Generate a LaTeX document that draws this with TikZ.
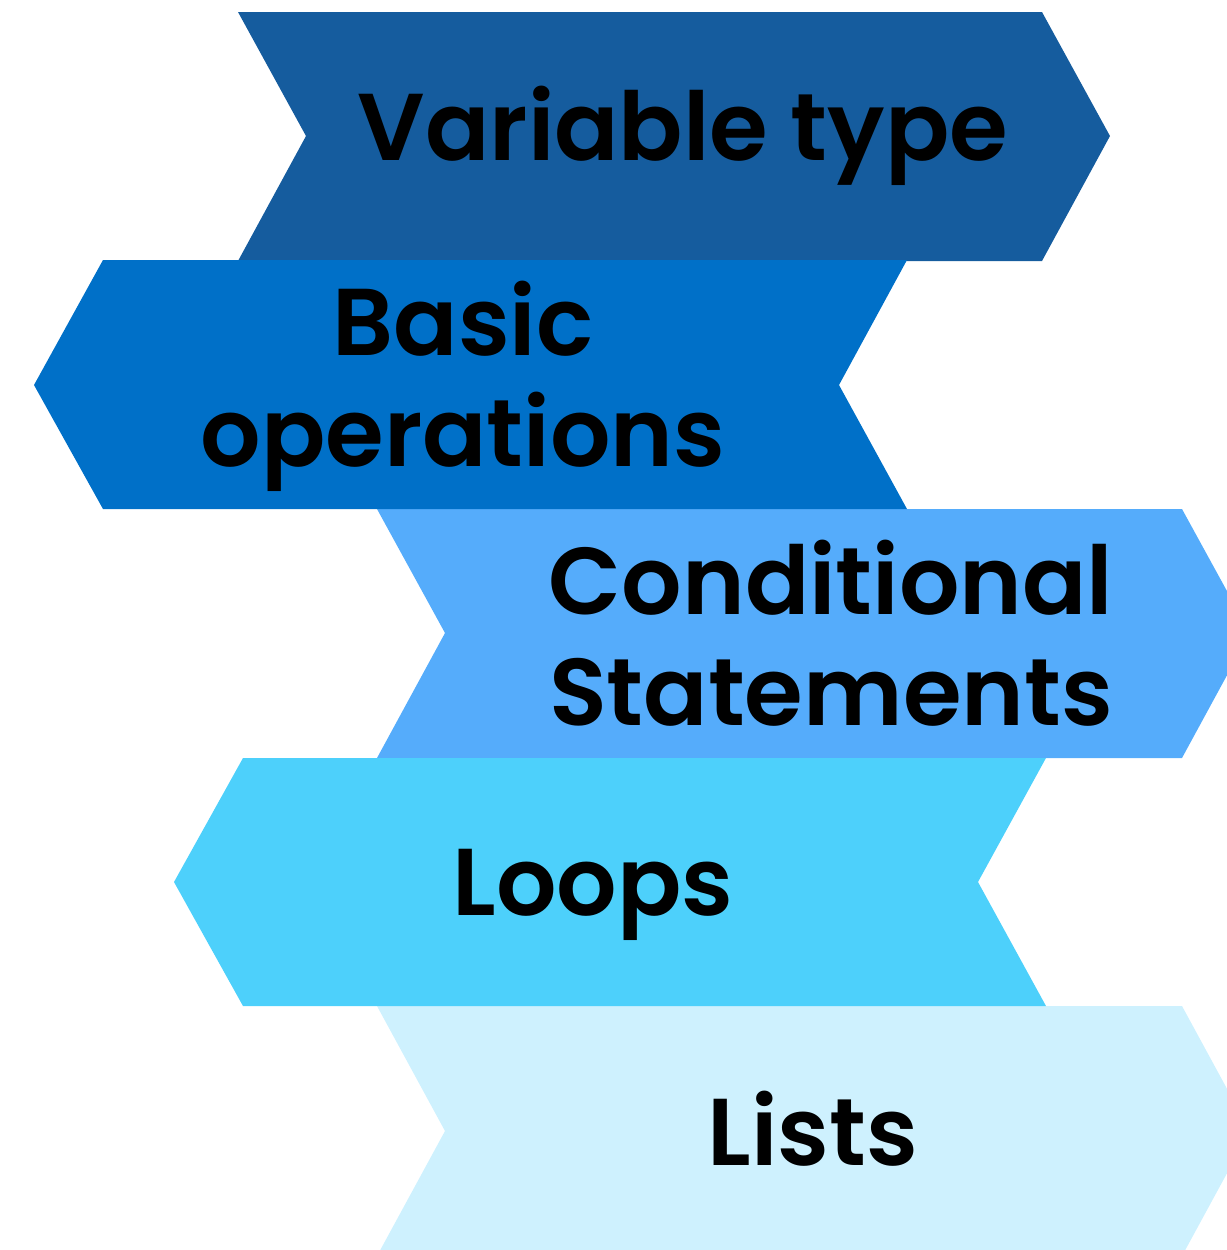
\documentclass[tikz,border=0pt]{standalone}
\usepackage{fontspec}
\setmainfont{Poppins}[BoldFont={Poppins SemiBold}]
\usepackage{tikz}
\definecolor{variablecol}{HTML}{155C9E}
\definecolor{basiccol}{HTML}{0070C8}
\definecolor{condcol}{HTML}{55ACFB}
\definecolor{loopcol}{HTML}{4DD0FB}
\definecolor{listcol}{HTML}{CEF1FE}
\tikzset{main node/.style={font=\fontsize{27}{31.6}\selectfont\bfseries,inner sep=0pt,align=center},}

\begin{document}
\begin{tikzpicture}[x=0.01cm,y=-0.01cm]
    \useasboundingbox (0,0) rectangle (1227,1250);

    % right pointing bands
    \fill[variablecol] (238,12) -- (1042,12) -- (1110,136) -- (1042,261) -- (238,261) -- (306,136) -- cycle;
    \fill[condcol] (377,509) -- (1182,509) -- (1250,633) -- (1182,758) -- (377,758) -- (445,633) -- cycle;
    \fill[listcol] (377,1006) -- (1182,1006) -- (1250,1131) -- (1182,1256) -- (377,1256) -- (445,1131) -- cycle;

    % left pointing bands
    \fill[basiccol] (103,260) -- (907,260) -- (839,385) -- (907,509) -- (103,509) -- (34,385) -- cycle;
    \fill[loopcol] (243,758) -- (1046,758) -- (978,882) -- (1046,1006) -- (243,1006) -- (174,882) -- cycle;

    \node[main node,anchor=base] (1) at (683,160) {Variable type};
    \node[main node] (2) at (463,386) {Basic\\operations};
    \node[main node] (3) at (831,633) {Conditional\\Statements};
    \node[main node,anchor=base] (4) at (593,915) {Loops};
    \node[main node,anchor=base] (5) at (813,1165) {Lists};
\end{tikzpicture}
\end{document}
